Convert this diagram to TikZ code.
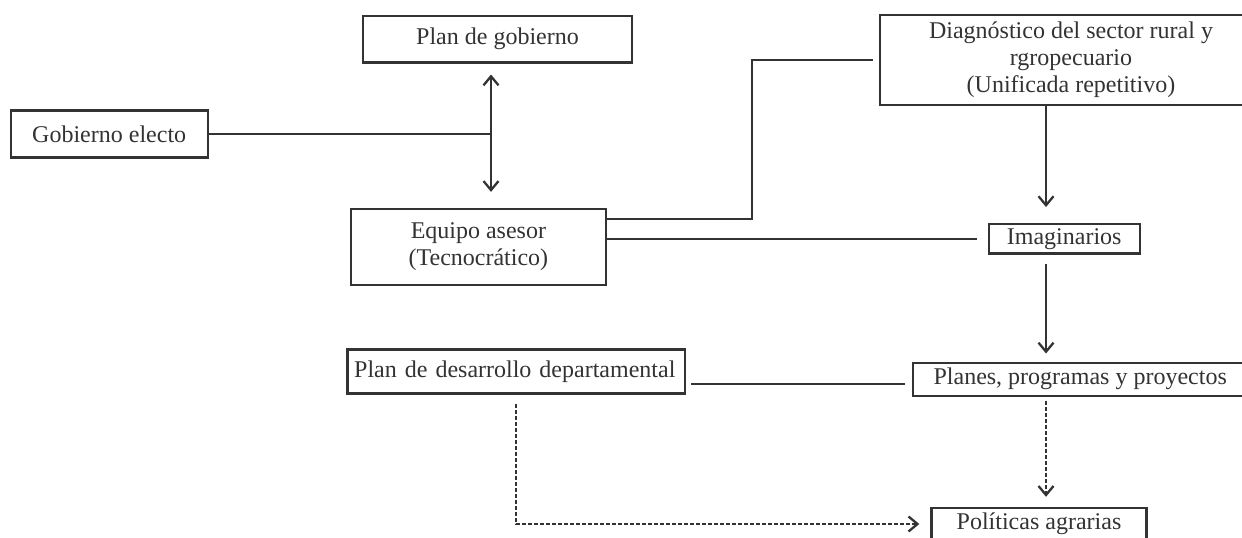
\documentclass[tikz,border=0pt]{standalone}
\usepackage{fontspec}
\setmainfont{Liberation Serif}
\usetikzlibrary{arrows.meta}

\definecolor{ink}{HTML}{333333}
\newcommand{\txtsz}{\fontsize{24}{27}\selectfont}
\newcommand{\boxn}{\node[rectangle, draw=ink, line width=2.4pt, text=ink, inner sep=0pt, align=center, font=\txtsz]}

\tikzset{
    link/.style={draw=ink, line width=2.3pt},
    arr/.style={link, -{Straight Barb[length=9pt, width=15pt]}},
    dual/.style={link, {Straight Barb[length=9pt, width=15pt]}-{Straight Barb[length=9pt, width=15pt]}},
    dashln/.style={dash pattern=on 4pt off 2pt}
}

\begin{document}
\begin{tikzpicture}[x=1pt, y=-1pt]
            \clip (0,0) rectangle (1242,538);
            \fill[white] (0,0) rectangle (1242,538);

            \boxn[minimum width=197pt, minimum height=47pt] (gob) at (109.2,134) {Gobierno electo};
            \boxn[minimum width=269pt, minimum height=46.6pt] (plan) at (497.5,39) {Plan de gobierno};
            \boxn[minimum width=255.3pt, minimum height=75.7pt] (equ) at (478.4,246.9) {Equipo asesor\\(Tecnocrático)};
            \boxn[minimum width=382pt, minimum height=90pt] (diag) at (1071,60) {Diagnóstico del sector rural y\\rgropecuario\\(Unificada repetitivo)};
            \boxn[minimum width=151pt, minimum height=29.3pt] (imag) at (1064.2,238.9) {Imaginarios};
            \boxn[minimum width=337.7pt, minimum height=44pt, text width=324pt, align=left] (pdd) at (516.2,371.3) {Plan de desarrollo departamental};
            \boxn[minimum width=335pt, minimum height=33pt] (ppp) at (1080.2,379.2) {Planes, programas y proyectos};
            \boxn[minimum width=215pt, minimum height=32pt] (pol) at (1039,524) {Políticas agrarias};

            \coordinate (jn) at (491,134);
            \coordinate (ax) at (1046,0);

            \draw[link]
                (gob.east) -- (jn);
            \draw[dual, shorten <=11pt, shorten >=16pt]
                (plan.south -| jn) -- (equ.north -| jn);

            \draw[link]
                ([yshift=28pt]equ.east) -| ([xshift=-127pt]diag.west) -- ([xshift=-6pt]diag.west)
                ([yshift=8pt]equ.east) -- ([xshift=-11pt]imag.west)
                ([xshift=5pt, yshift=-13pt]pdd.east) -- ([xshift=-7pt, yshift=-5.1pt]ppp.west)
                ;

            \draw[arr, shorten >=16pt]
                (diag.south -| ax) -- (imag.north -| ax);
            \draw[arr, shorten <=9pt, shorten >=8pt]
                (imag.south -| ax) -- (ppp.north -| ax);

            \draw[arr, dashln, shorten <=4pt, shorten >=10pt]
                (ppp.south -| ax) -- (pol.north -| ax);
            \draw[arr, dashln, shorten <=9pt, shorten >=11pt]
                (pdd.south) |- (pol.west);
\end{tikzpicture}
\end{document}
